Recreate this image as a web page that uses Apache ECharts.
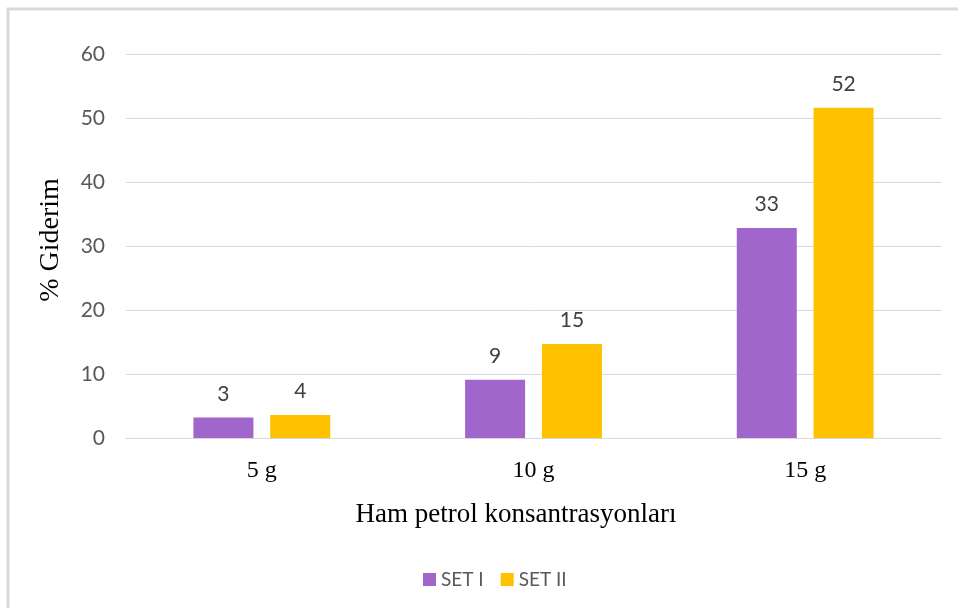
<!DOCTYPE html>
<html><head><meta charset="utf-8">
<script src="https://cdn.jsdelivr.net/npm/echarts@6/dist/echarts.min.js"></script>
<style>html,body{margin:0;padding:0;background:#fff}#c{width:958px;height:608px}</style>
</head><body><div id="c"></div>
<script>
const categories = ['5 g', '10 g', '15 g'];
const set1 = [3.2, 9.1, 32.8];
const set2 = [3.6, 14.7, 51.6];
const seriesNames = ['SET I', 'SET II'];
const yTicks = { min: 0, max: 60, interval: 10 };
const xTitle = 'Ham petrol konsantrasyonları';
const yTitle = '% Giderim';

const chart = echarts.init(document.getElementById('c'), null, { renderer: 'canvas' });
const labelStyle = { show: true, position: 'top', distance: 13, color: '#404040', fontFamily: 'Lato', fontSize: 21, formatter: p => Math.round(p.value) };
chart.setOption({
  animation: false,
  graphic: [{ type: 'rect', shape: { x: 8, y: 9, width: 1100, height: 800 }, style: { fill: 'none', stroke: '#d9d9d9', lineWidth: 3 }, silent: true }],
  title: { text: xTitle, left: 511, textAlign: 'center', top: 496, textStyle: { fontFamily: 'Liberation Serif', fontSize: 27, fontWeight: 'normal', color: '#000' } },
  grid: { left: 126, right: 17, top: 54, bottom: 170 },
  legend: { data: seriesNames, left: 418, top: 565, itemWidth: 13, itemHeight: 13, itemGap: 17, icon: 'rect', textStyle: { fontFamily: 'Lato', fontSize: 19, color: '#595959' } },
  xAxis: { type: 'category', data: categories, axisTick: { show: false }, axisLine: { lineStyle: { color: '#d9d9d9', width: 1 } },
    axisLabel: { margin: 21, fontFamily: 'Liberation Serif', fontSize: 24, color: '#000' } },
  yAxis: { type: 'value', min: yTicks.min, max: yTicks.max, interval: yTicks.interval, name: yTitle, nameLocation: 'middle', nameGap: 61, nameRotate: 90,
    nameTextStyle: { fontFamily: 'Liberation Serif', fontSize: 28, color: '#000', padding: [0, 0, 0, 12] },
    axisLine: { show: false }, axisTick: { show: false }, splitLine: { lineStyle: { color: '#d9d9d9', width: 1 } },
    axisLabel: { margin: 21, fontFamily: 'Lato', fontSize: 21, color: '#595959' } },
  series: [
    { name: seriesNames[0], type: 'bar', data: set1, barWidth: 60, barGap: '28%', itemStyle: { color: '#A066CB' }, label: labelStyle },
    { name: seriesNames[1], type: 'bar', data: set2, barWidth: 60, itemStyle: { color: '#FFC000' }, label: labelStyle }
  ]
});
</script></body></html>
